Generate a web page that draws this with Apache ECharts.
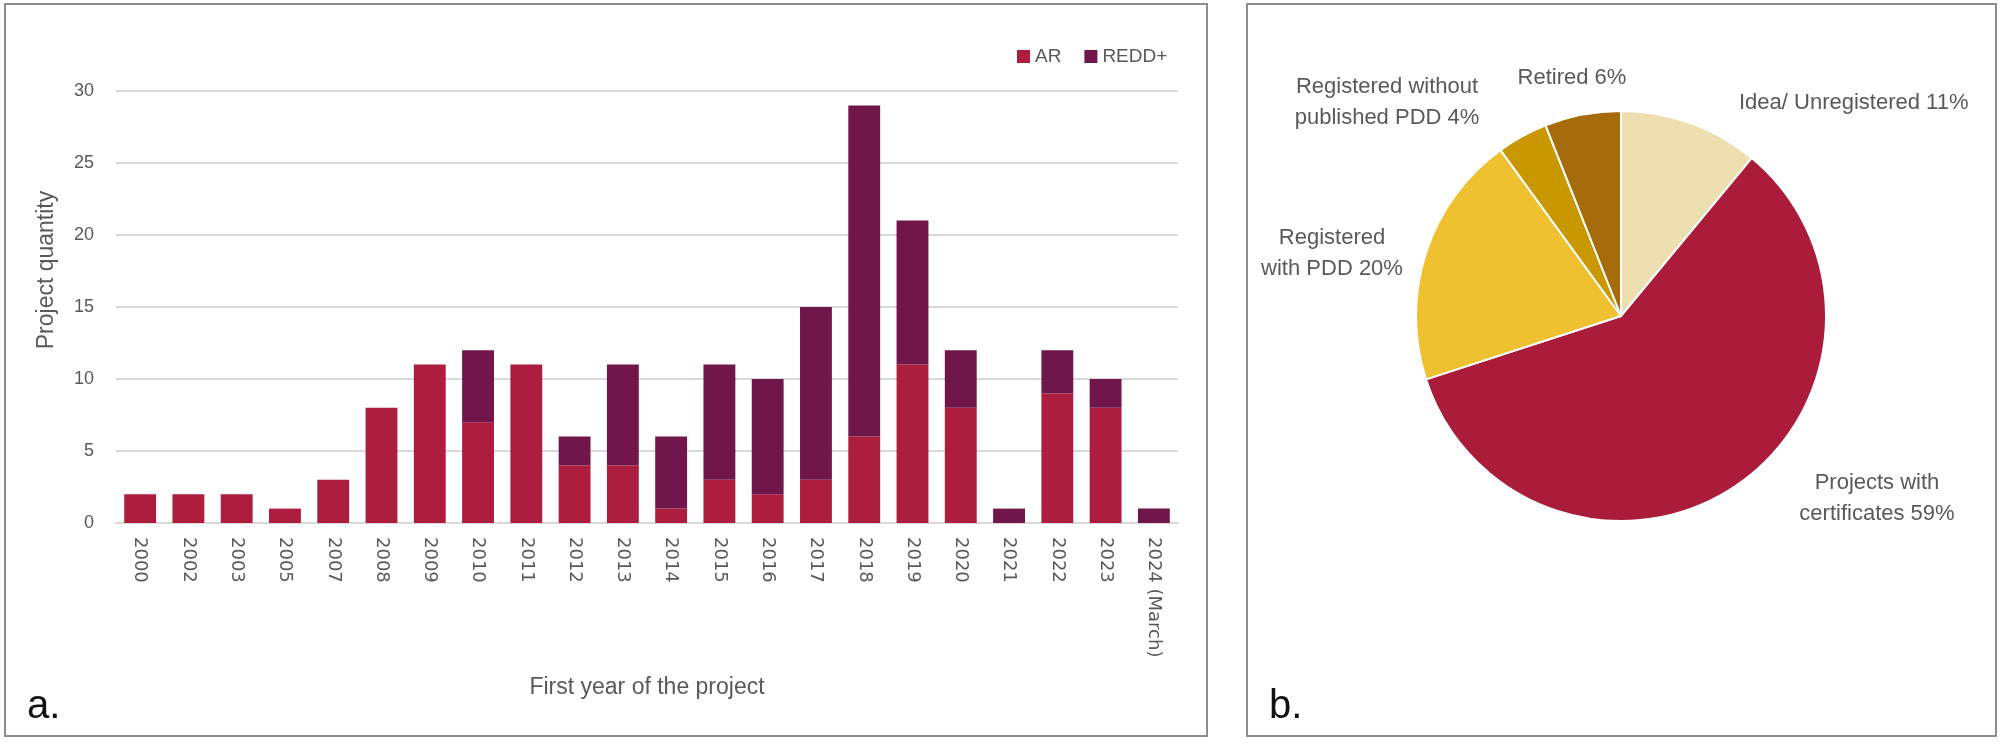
<!DOCTYPE html>
<html>
<head>
<meta charset="utf-8">
<script src="https://cdn.jsdelivr.net/npm/echarts@6/dist/echarts.min.js"></script>
<style>
html,body{margin:0;padding:0;background:#fff;}
#c{width:2000px;height:744px;}
</style>
</head>
<body>
<div id="c"></div>
<script>
const years = ['2000','2002','2003','2005','2007','2008','2009','2010','2011','2012','2013','2014','2015','2016','2017','2018','2019','2020','2021','2022','2023','2024 (March)'];
const arValues   = [2,2,2,1,3,8,11,7,11,4,4,1,3,2,3,6,11,8,0,9,8,0];
const reddValues = [0,0,0,0,0,0,0,5,0,2,7,5,8,8,12,23,10,4,1,3,2,1];
const yTicks = [0,5,10,15,20,25,30];

const pieNames  = ['Idea/ Unregistered','Projects with certificates','Registered with PDD','Registered without published PDD','Retired'];
const pieValues = [11,59,20,4,6];
const pieLabelText = ['Idea/ Unregistered 11%','Projects with\ncertificates 59%','Registered\nwith PDD 20%','Registered without\npublished PDD 4%','Retired 6%'];

// styling (not data)
const pieColors = ['#EDDFB0','#AA1C3A','#EFC131','#C99800','#A66B0B'];
const pieLabelPos = [
  {x:1739, y:103, align:'left'},
  {x:1877, y:498, align:'center'},
  {x:1332, y:253, align:'center'},
  {x:1387, y:102, align:'center'},
  {x:1572, y:78,  align:'center'}
];
const grey = '#595959';
const fontMain = '"Liberation Sans", Arial, sans-serif';

const chart = echarts.init(document.getElementById('c'), null, {renderer:'canvas'});
chart.setOption({
  animation:false,
  backgroundColor:'#ffffff',
  graphic:[
    {type:'rect', shape:{x:5,y:4,width:1202,height:732}, style:{fill:'none',stroke:'#8c8c8c',lineWidth:2}},
    {type:'rect', shape:{x:1247,y:4,width:749,height:732}, style:{fill:'none',stroke:'#8c8c8c',lineWidth:2}},
    {type:'text', left:27, top:687, style:{text:'a.', font:'40px "Liberation Sans", Arial, sans-serif', fill:'#111'}},
    {type:'text', left:1269, top:687, style:{text:'b.', font:'40px "Liberation Sans", Arial, sans-serif', fill:'#111'}},
    {type:'text', x:47, y:270, rotation:Math.PI/2,
      style:{text:'Project quantity', font:'23px "Liberation Sans", Arial, sans-serif', fill:grey, textAlign:'center', textVerticalAlign:'middle'}}
  ],
  legend:{
    data:['AR','REDD+'],
    left:1012, top:42,
    itemWidth:13, itemHeight:13, itemGap:23,
    icon:'rect',
    textStyle:{color:grey, fontSize:19, fontFamily:fontMain}
  },
  grid:{left:116, top:91, width:1062, height:432, containLabel:false},
  xAxis:{
    type:'category',
    data:years,
    axisTick:{show:false},
    axisLine:{lineStyle:{color:'#d9d9d9', width:2}},
    axisLabel:{rotate:-90, color:grey, fontSize:18, fontFamily:'"DejaVu Sans", sans-serif', margin:14, interval:0},
    name:'First year of the project',
    nameLocation:'middle',
    nameGap:153,
    nameTextStyle:{color:grey, fontSize:23, fontFamily:fontMain}
  },
  yAxis:{
    type:'value',
    min:0, max:30, interval:5,
    axisLine:{show:false},
    axisTick:{show:false},
    splitLine:{lineStyle:{color:'#d9d9d9', width:2}},
    axisLabel:{color:grey, fontSize:18, fontFamily:fontMain, margin:22}
  },
  series:[
    {name:'AR', type:'bar', stack:'total', data:arValues, barWidth:'66%', itemStyle:{color:'#AD1D3D'}},
    {name:'REDD+', type:'bar', stack:'total', data:reddValues, barWidth:'66%', itemStyle:{color:'#70164A'}},
    {
      name:'status', type:'pie',
      center:[1621,316], radius:205,
      startAngle:90, clockwise:true,
      itemStyle:{borderColor:'#fff', borderWidth:2},
      data: pieNames.map((n,i)=>({name:n, value:pieValues[i], itemStyle:{color:pieColors[i]}})),
      label:{
        show:true, position:'outside',
        formatter:(p)=>pieLabelText[p.dataIndex],
        color:grey, fontSize:22, lineHeight:31, fontFamily:fontMain
      },
      labelLine:{show:false},
      labelLayout:(p)=>{
        const pos = pieLabelPos[p.dataIndex];
        return {x:pos.x, y:pos.y, align:pos.align, verticalAlign:'middle'};
      },
      emphasis:{disabled:true}
    }
  ]
});
</script>
</body>
</html>
